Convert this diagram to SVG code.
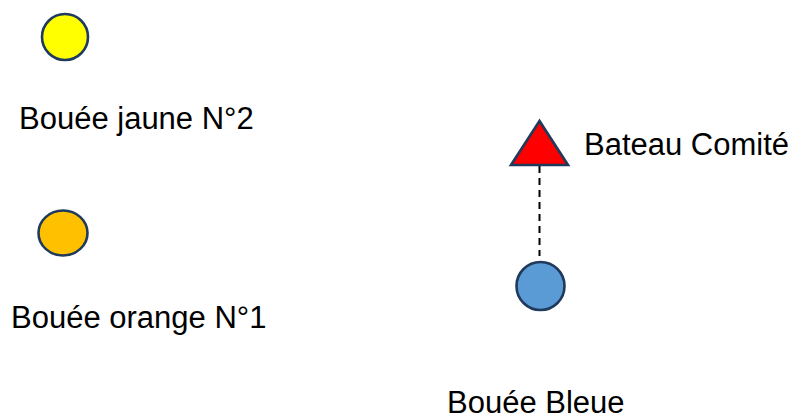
<svg xmlns="http://www.w3.org/2000/svg" width="797" height="419" viewBox="0 0 797 419">
<style>
.lbl{font-family:"Liberation Sans",Arial,sans-serif;font-size:31px;fill:#000}
.shape{stroke:#1f3a5c;stroke-width:2.6}
</style>
<rect width="797" height="419" fill="#fff"/>
<g id="connectors">
<line x1="539.5" y1="166" x2="539.5" y2="256" stroke="#000" stroke-width="2" stroke-dasharray="7 5"/>
</g>
<g id="bouee-jaune">
<circle class="shape" cx="65" cy="37" r="23" fill="#FFFF00"/>
<text class="lbl" x="19" y="129">Bouée jaune N°2</text>
</g>
<g id="bouee-orange">
<ellipse class="shape" cx="63" cy="233" rx="24.5" ry="22.5" fill="#FFC000"/>
<text class="lbl" x="11" y="328">Bouée orange N°1</text>
</g>
<g id="bateau-comite">
<polygon class="shape" points="539.5,121 511,165 568,165" fill="#FF0000" stroke-linejoin="miter"/>
<text class="lbl" x="584" y="155">Bateau Comité</text>
</g>
<g id="bouee-bleue">
<circle class="shape" cx="540.5" cy="286" r="24" fill="#5B9BD5"/>
<text class="lbl" x="447" y="413">Bouée Bleue</text>
</g>
</svg>
